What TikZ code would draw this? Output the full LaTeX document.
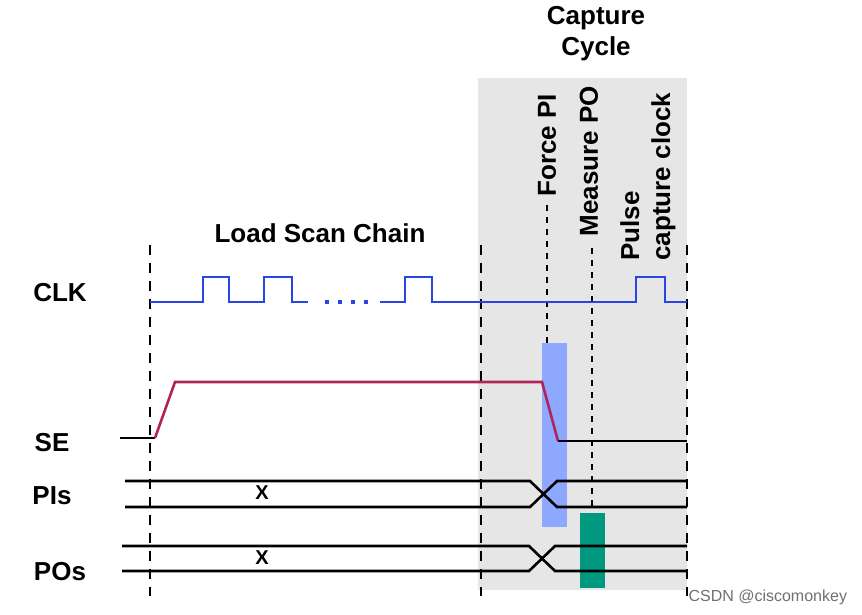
\documentclass[tikz,border=0pt]{standalone}
\usepackage{fontspec}
\setsansfont{Liberation Sans}
\usepackage{tikz}
\usetikzlibrary{positioning}
\definecolor{capgray}{HTML}{E6E6E6}
\definecolor{clkblue}{HTML}{2A45E6}
\definecolor{sered}{HTML}{B0245A}
\definecolor{forceblue}{HTML}{8FA8FF}
\definecolor{measgreen}{HTML}{00997F}
\definecolor{wmgray}{HTML}{707070}
\tikzset{
  lbl/.style={font=\fontsize{26}{31}\selectfont\sffamily\bfseries},
  xlbl/.style={font=\fontsize{20}{24}\selectfont\sffamily\bfseries},
  wave/.style={line width=2.6pt, line join=miter},
  cutline/.style={line width=2.8pt, dash pattern=on 10pt off 8pt},
  evline/.style={line width=2.2pt, dash pattern=on 6pt off 6pt},
}

\begin{document}
\begin{tikzpicture}[x=1pt, y=-1pt]

  \useasboundingbox (0,0) rectangle (862,614);

  %% capture window and event bars
  \fill[capgray] (478,78) rectangle (687,590);
  \fill[forceblue] (542,343) rectangle (567,527);
  \fill[measgreen] (580,513) rectangle (605,588);

  %% cycle boundaries
  \draw[cutline] (150,245) -- (150,596);
  \draw[cutline] (481,245) -- (481,596);
  \draw[cutline] (687,245) -- (687,596);
  \draw[evline] (547,205) -- (547,343);
  \draw[evline] (592,248) -- (592,508);

  %% CLK
  \draw[wave, clkblue] (150,302) -- (203,302) -- (203,277) -- (229,277) -- (229,302)
    -- (264,302) -- (264,277) -- (292,277) -- (292,302) -- (308,302);
  \draw[wave, clkblue, line width=3.2pt, dash pattern=on 4pt off 9pt] (325,302) -- (372,302);
  \draw[wave, clkblue] (380,302) -- (405,302) -- (405,277) -- (432,277) -- (432,302)
    -- (636,302) -- (636,277) -- (665,277) -- (665,302) -- (687,302);

  %% SE
  \draw[wave] (120,438) -- (155,438);
  \draw[wave, sered] (155,438) -- (175,382) -- (542,382) -- (558,441);
  \draw[wave] (558,441) -- (687,441);

  %% PIs
  \draw[wave] (125,481) -- (530,481) -- (557,507) -- (687,507);
  \draw[wave] (125,507) -- (530,507) -- (557,481) -- (687,481);

  %% POs
  \draw[wave] (122,546) -- (529,546) -- (555,571) -- (687,571);
  \draw[wave] (122,571) -- (529,571) -- (555,546) -- (687,546);

  %% labels
  \node[lbl, align=center] (capcycle) at (596,34) {Capture\\Cycle};
  \node[lbl] (loadscan) at (320,233) {Load Scan Chain};
  \node[lbl, rotate=90, anchor=west] (forcepi) at (547,200) {Force PI};
  \node[lbl, rotate=90, anchor=west] (measpo) at (589,240) {Measure PO};
  \node[lbl, rotate=90, anchor=west, align=left] (pulse) at (648,264)
    {Pulse\\capture clock};

  \node[lbl] (clk) at (60,293) {CLK};
  \node[lbl] (se) at (52,443) {SE};
  \node[lbl] (pis) at (52,496) {PIs};
  \node[lbl] (pos) at (60,572) {POs};
  \node[xlbl] (pix) at (262,493) {X};
  \node[xlbl] (pox) at (262,558) {X};

  \node[font=\fontsize{16}{18}\selectfont\sffamily, text=wmgray, anchor=west]
    (wmark) at (685,597) {CSDN @ciscomonkey};

\end{tikzpicture}
\end{document}
